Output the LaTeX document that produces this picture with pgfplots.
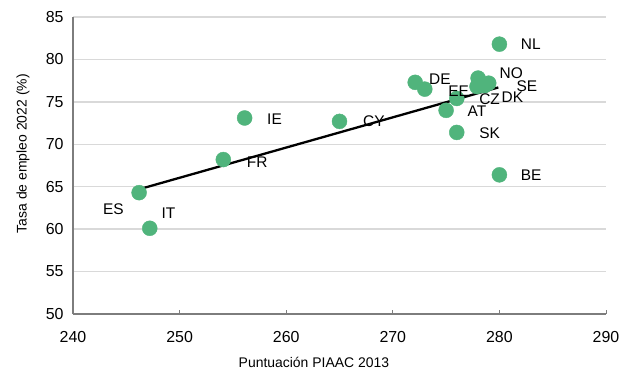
\documentclass[border=0pt]{standalone}
\usepackage{fontspec}
\setmainfont{Liberation Sans}
\usepackage{pgfplots}
\pgfplotsset{compat=1.18}
\definecolor{dot}{RGB}{80,180,124}
\definecolor{gridc}{RGB}{217,217,217}
\definecolor{axc}{RGB}{125,125,125}
\begin{document}
\begin{tikzpicture}
\useasboundingbox (-73bp,-58bp) rectangle (549bp,314bp);
\begin{axis}[at={(0,0)},anchor=south west,
  scale only axis, width=533bp, height=297bp,
  xmin=240, xmax=290, ymin=50, ymax=85,
  xtick={240,250,...,290}, ytick={50,55,...,85},
  axis lines*=left,
  axis line style={axc, line width=1.5bp},
  ymajorgrids, grid style={gridc, line width=1.4bp},
  tick style={axc, line width=1bp},
  major tick length=4bp, tick align=inside,
  ytick style={draw=none},
  /pgf/number format/assume math mode=true,
  ticklabel style={font=\fontsize{16}{16}\selectfont},
  yticklabel style={xshift=-6bp},
  xticklabel style={yshift=-14bp},
  label style={font=\fontsize{14}{14}\selectfont},
  xlabel={Puntuación PIAAC 2013},
  ylabel={Tasa de empleo 2022 (\%)},
  xlabel style={at={(axis description cs:0.452,-0.1616)}, anchor=center},
  ylabel style={at={(axis description cs:-0.094,0.540)}, anchor=center},
  clip=false,
]
\addplot[only marks, mark=*, mark size=7.5bp, color=dot, mark options={draw=none, fill=dot}] coordinates {
  (280.0,81.8) (272.1,77.3) (273.0,76.5) (276.0,75.4) (275.0,74.0)
  (276.0,71.4) (280.0,66.4) (278.0,77.8) (279.0,77.2) (277.9,76.8)
  (278.6,76.9) (256.1,73.1) (265.0,72.7) (254.1,68.2) (246.2,64.3) (247.2,60.1)
};
\addplot[black, line width=2.3bp] coordinates {(246.2,64.7) (279.9,76.7)};
\addplot[only marks, mark=none, nodes near coords, point meta=explicit symbolic,
  nodes near coords style={anchor=west, inner sep=0pt, font=\fontsize{15.5}{15.5}\selectfont}]
  table[meta=label] {
x y label
282.0 81.8 NL
273.4 77.7 DE
275.2 76.3 EE
280.0 78.4 NO
281.6 76.8 SE
278.1 75.3 CZ
280.2 75.6 DK
277.0 73.9 AT
278.1 71.3 SK
282.0 66.4 BE
258.2 73.0 IE
267.2 72.7 CY
256.3 67.9 FR
242.8 62.4 ES
248.3 61.9 IT
};
\end{axis}
\end{tikzpicture}
\end{document}
